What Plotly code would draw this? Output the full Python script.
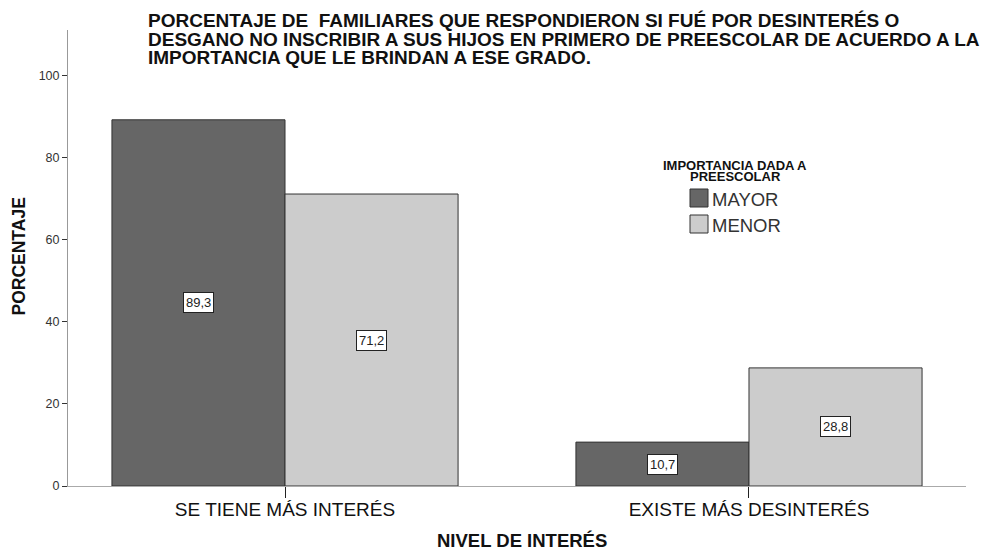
import plotly.graph_objects as go

categories = ["SE TIENE MÁS INTERÉS", "EXISTE MÁS DESINTERÉS"]
series_names = ["MAYOR", "MENOR"]
mayor = [89.3, 10.7]
menor = [71.2, 28.8]
y_ticks = [0, 20, 40, 60, 80, 100]
title_lines = [
    "PORCENTAJE DE  FAMILIARES QUE RESPONDIERON SI FUÉ POR DESINTERÉS O",
    "DESGANO NO INSCRIBIR A SUS HIJOS EN PRIMERO DE PREESCOLAR DE ACUERDO A LA",
    "IMPORTANCIA QUE LE BRINDAN A ESE GRADO.",
]
legend_title_lines = ["IMPORTANCIA DADA A", "PREESCOLAR"]

values = [mayor, menor]
colors = ["#666666", "#cccccc"]
FONT = "Liberation Sans, Arial"

# page offset (default body margin of the html page)
OFF = 8
# plot area in page pixels
L, R, T, B = 68 - OFF, 966 - OFF, 30 - OFF, 486 - OFF
W, H = R - L, B - T


def px(x):
    return (x - OFF - L) / W


def py(y):
    return (B - (y - OFF)) / H


fig = go.Figure()
for name, vals, col in zip(series_names, values, colors):
    fig.add_trace(go.Bar(
        x=categories, y=vals, name=name,
        marker=dict(color=col, line=dict(color="#333333", width=1)),
        showlegend=False,
    ))

# boxed value labels centred in each bar
bargap = 0.254
half = (1 - bargap) / 4
for si, vals in enumerate(values):
    off = -half if si == 0 else half
    for ci, v in enumerate(vals):
        fig.add_annotation(
            x=ci + off, y=v / 2, xref="x", yref="y",
            xanchor="center", yanchor="middle",
            text=f"{v:.1f}".replace(".", ","), showarrow=False,
            font=dict(family=FONT, size=13, color="#222222"),
            bgcolor="white", bordercolor="#222222", borderwidth=1, borderpad=2,
        )

# title (three lines, tight spacing)
for i, line in enumerate(title_lines):
    fig.add_annotation(
        x=px(146), y=py(20 + 19 * i), xref="paper", yref="paper",
        xanchor="left", yanchor="middle", showarrow=False, text=f"<b>{line}</b>",
        font=dict(family=FONT, size=19, color="#111111"),
    )

# axis titles
fig.add_annotation(
    x=px(522), y=py(540), xref="paper", yref="paper", showarrow=False,
    xanchor="center", yanchor="middle",
    text="<b>NIVEL DE INTERÉS</b>", font=dict(family=FONT, size=18.5, color="#111111"),
)
fig.add_annotation(
    x=px(18.5), y=py(257), xref="paper", yref="paper", showarrow=False, textangle=-90,
    xanchor="center", yanchor="middle",
    text="<b>PORCENTAJE</b>", font=dict(family=FONT, size=17.5, color="#111111"),
)

# legend (drawn manually to match the original layout)
for i, line in enumerate(legend_title_lines):
    fig.add_annotation(
        x=px(735), y=py(165 + 11.5 * i), xref="paper", yref="paper", showarrow=False,
        xanchor="center", yanchor="middle",
        text=f"<b>{line}</b>", font=dict(family=FONT, size=13, color="#111111"),
    )
for i, (name, col) in enumerate(zip(series_names, colors)):
    y0 = 189 + 26 * i
    fig.add_shape(
        type="rect", xref="paper", yref="paper",
        x0=px(690), x1=px(708), y0=py(y0 + 18), y1=py(y0),
        fillcolor=col, line=dict(color="#333333", width=1),
    )
    fig.add_annotation(
        x=px(710), y=py(y0 + 10), xref="paper", yref="paper", showarrow=False,
        xanchor="left", yanchor="middle", text=name,
        font=dict(family=FONT, size=18.5, color="#333333"),
    )

fig.update_layout(
    width=1000, height=548,
    margin=dict(l=L, r=1000 - R, t=T, b=548 - B, autoexpand=False),
    paper_bgcolor="white", plot_bgcolor="white",
    barmode="group", bargap=bargap, bargroupgap=0,
    font=dict(family=FONT, color="#222222"),
    showlegend=False,
    xaxis=dict(
        range=[-0.4677, 1.4677], automargin=False,
        showline=True, linecolor="#aaaaaa", linewidth=1,
        ticks="outside", ticklen=11, tickcolor="#222222", tickwidth=1,
        tickfont=dict(size=19, color="#111111"), ticklabelstandoff=-5,
        showgrid=False, zeroline=False,
    ),
    yaxis=dict(
        range=[0, 111.2], automargin=False,
        tickvals=y_ticks,
        showline=True, linecolor="#999999", linewidth=1,
        ticks="outside", ticklen=5, tickcolor="#333333", tickwidth=1,
        tickfont=dict(size=12.5, color="#333333"),
        showgrid=False, zeroline=False,
    ),
)

fig.write_html("out.html")
